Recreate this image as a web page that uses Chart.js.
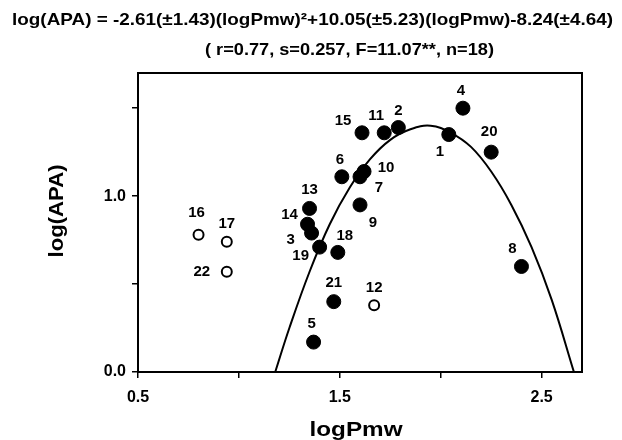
<!DOCTYPE html>
<html>
<head>
<meta charset="utf-8">
<script src="https://cdn.jsdelivr.net/npm/chart.js@4.4.1/dist/chart.umd.min.js"></script>
<style>
  html, body { margin: 0; padding: 0; background: #fff; }
  #wrap { width: 622px; height: 440px; }
</style>
</head>
<body>
<div id="wrap"><canvas id="grafico"></canvas></div>
<script>
// compostos (numero, logPmw, log(APA))
const numeros = [1, 2, 3, 4, 5, 6, 7, 8, 9, 10, 11, 13, 14, 15, 18, 19, 20, 21];
const logPmw = [2.04, 1.79, 1.36, 2.11, 1.37, 1.51, 1.60, 2.40, 1.60, 1.62, 1.72, 1.35, 1.34, 1.61, 1.49, 1.40, 2.25, 1.47];
const logAPA = [1.35, 1.39, 0.79, 1.50, 0.17, 1.11, 1.11, 0.60, 0.95, 1.14, 1.36, 0.93, 0.84, 1.36, 0.68, 0.71, 1.25, 0.40];

// pontos fora da regressao (circulos abertos)
const numerosFora = [12, 16, 17, 22];
const logPmwFora = [1.67, 0.80, 0.94, 0.94];
const logAPAFora = [0.38, 0.78, 0.74, 0.57];

// curva ajustada
const curvaX = [1.18, 1.25, 1.35, 1.45, 1.55, 1.65, 1.75, 1.85, 1.95, 2.05, 2.15, 2.25, 2.35, 2.45, 2.55, 2.66];
const curvaY = [0.00, 0.25, 0.57, 0.84, 1.05, 1.21, 1.32, 1.38, 1.40, 1.36, 1.28, 1.14, 0.95, 0.71, 0.41, 0.00];

const ticksX = [0.5, 1.0, 1.5, 2.0, 2.5];
const rotulosX = ['0.5', '', '1.5', '', '2.5'];
const ticksY = [0.0, 0.5, 1.0, 1.5];
const rotulosY = ['0.0', '', '1.0', ''];

const titulo1 = 'log(APA) = -2.61(\u00B11.43)(logPmw)\u00B2+10.05(\u00B15.23)(logPmw)-8.24(\u00B14.64)';
const titulo2 = '( r=0.77, s=0.257, F=11.07**, n=18)';

// deslocamento dos numeros em relacao ao ponto (px)
const posRotulo = {
    1: [-9, 17], 2: [0, -17], 3: [-21, 7], 4: [-2, -17], 5: [-2, -18], 6: [-2, -17],
    7: [19, 11], 8: [-9, -18], 9: [13, 18], 10: [22, -4], 11: [-8, -17], 12: [0, -17],
    13: [0, -19], 14: [-18, -9], 15: [-19, -12], 16: [-2, -22], 17: [0, -18], 18: [7, -17],
    19: [-19, 9], 20: [-2, -20], 21: [0, -19], 22: [-25, 0]
};

const fonte = '"Liberation Sans", Arial, Helvetica, sans-serif';

const pontos = logPmw.map((x, i) => ({ x, y: logAPA[i], n: numeros[i] }));
const pontosFora = logPmwFora.map((x, i) => ({ x, y: logAPAFora[i], n: numerosFora[i] }));
const curva = curvaX.map((x, i) => ({ x, y: curvaY[i] }));

// texto esticado na horizontal ate a largura desejada
function textoLargo(ctx, txt, cx, cy, largura, ang) {
    const w = ctx.measureText(txt).width;
    ctx.save();
    ctx.translate(cx, cy);
    if (ang) ctx.rotate(ang);
    ctx.scale(largura / w, 1);
    ctx.fillText(txt, 0, 0);
    ctx.restore();
}

const extras = {
    id: 'extras',
    afterDraw(chart) {
        const ctx = chart.ctx;
        const a = chart.chartArea;
        ctx.save();
        // moldura
        ctx.strokeStyle = '#000';
        ctx.lineWidth = 2;
        ctx.strokeRect(a.left, a.top, a.right - a.left, a.bottom - a.top);

        ctx.fillStyle = '#000';
        ctx.textAlign = 'center';
        ctx.textBaseline = 'middle';

        // numeros dos pontos
        ctx.font = 'bold 15px ' + fonte;
        [0, 1].forEach(di => {
            const meta = chart.getDatasetMeta(di);
            meta.data.forEach((el, i) => {
                const n = chart.data.datasets[di].data[i].n;
                const d = posRotulo[n] || [0, -17];
                ctx.fillText(String(n), el.x + d[0], el.y + d[1]);
            });
        });

        // titulos
        ctx.font = 'bold 17px ' + fonte;
        textoLargo(ctx, titulo1, 312.5, 20.5, 601);
        textoLargo(ctx, titulo2, 349.5, 50.5, 289);

        // titulos dos eixos
        ctx.font = 'bold 21px ' + fonte;
        textoLargo(ctx, 'logPmw', 356, 430, 93);
        textoLargo(ctx, 'log(APA)', 57, 211, 93, -Math.PI / 2);
        ctx.restore();
    }
};

new Chart(document.getElementById('grafico'), {
    type: 'scatter',
    data: {
        datasets: [
            {
                data: pontos,
                backgroundColor: '#000',
                borderColor: '#000',
                pointRadius: 7,
                pointHoverRadius: 7
            },
            {
                data: pontosFora,
                backgroundColor: '#fff',
                borderColor: '#000',
                borderWidth: 2,
                pointRadius: 5,
                pointHoverRadius: 5
            },
            {
                type: 'line',
                data: curva,
                borderColor: '#000',
                borderWidth: 2,
                pointRadius: 0,
                tension: 0.4,
                fill: false
            }
        ]
    },
    options: {
        responsive: true,
        maintainAspectRatio: false,
        animation: false,
        layout: { padding: { top: 73, right: 40, left: 0, bottom: 0 } },
        plugins: {
            legend: { display: false },
            tooltip: { enabled: false }
        },
        scales: {
            x: {
                type: 'linear',
                min: 0.5,
                max: 2.7,
                afterBuildTicks: s => { s.ticks = ticksX.map(v => ({ value: v })); },
                afterFit: s => { s.height = 68; },
                grid: { drawOnChartArea: false, drawTicks: true, tickLength: 6, color: '#000', lineWidth: 1.5 },
                border: { display: true, color: '#000', width: 2 },
                ticks: {
                    color: '#000',
                    padding: 10,
                    maxRotation: 0,
                    font: { family: fonte, size: 16, weight: 'bold' },
                    callback: v => rotulosX[ticksX.indexOf(v)] ?? ''
                }
            },
            y: {
                type: 'linear',
                min: 0,
                max: 1.7,
                afterBuildTicks: s => { s.ticks = ticksY.map(v => ({ value: v })); },
                afterFit: s => { s.width = 138; },
                grid: { drawOnChartArea: false, drawTicks: true, tickLength: 6, color: '#000', lineWidth: 1.5 },
                border: { display: true, color: '#000', width: 2 },
                ticks: {
                    color: '#000',
                    padding: 6,
                    font: { family: fonte, size: 16, weight: 'bold' },
                    callback: v => rotulosY[ticksY.indexOf(v)] ?? ''
                }
            }
        }
    },
    plugins: [extras]
});
</script>
</body>
</html>
